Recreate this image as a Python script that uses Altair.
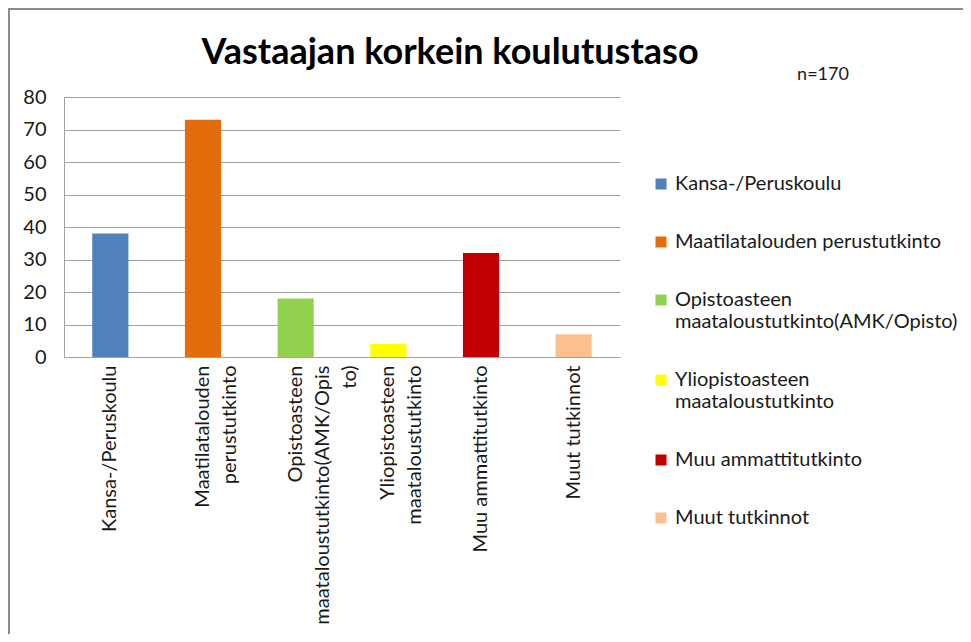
import json
import altair as alt
import pandas as pd

categories = [
    "Kansa-/Peruskoulu",
    "Maatilatalouden perustutkinto",
    "Opistoasteen maataloustutkinto(AMK/Opisto)",
    "Yliopistoasteen maataloustutkinto",
    "Muu ammattitutkinto",
    "Muut tutkinnot",
]
values = [38, 73, 18, 4, 32, 7]
colors = ["#4F81BD", "#E46C0A", "#92D050", "#FFFF00", "#C00000", "#FAC090"]
axis_label_lines = [
    ["Kansa-/Peruskoulu"],
    ["Maatilatalouden", "perustutkinto"],
    ["Opistoasteen", "maataloustutkinto(AMK/Opis", "to)"],
    ["Yliopistoasteen", "maataloustutkinto"],
    ["Muu ammattitutkinto"],
    ["Muut tutkinnot"],
]
legend_label_lines = [
    ["Kansa-/Peruskoulu"],
    ["Maatilatalouden perustutkinto"],
    ["Opistoasteen", "maataloustutkinto(AMK/Opisto)"],
    ["Yliopistoasteen", "maataloustutkinto"],
    ["Muu ammattitutkinto"],
    ["Muut tutkinnot"],
]
y_ticks = [0, 10, 20, 30, 40, 50, 60, 70, 80]
title_text = "Vastaajan korkein koulutustaso"
note_text = "n=170"

FONT = "Lato"
TXT = "#1a1a1a"
GRID = "#a3a3a3"
LBL = 20

df = pd.DataFrame({"cat": categories, "val": values})

cat_js = json.dumps(categories)
axis_expr = f"{json.dumps(axis_label_lines)}[indexof({cat_js}, datum.label)]"
legend_expr = f"{json.dumps(legend_label_lines)}[indexof({cat_js}, datum.label)]"

bars = alt.Chart(df).mark_bar().encode(
    x=alt.X(
        "cat:N",
        sort=categories,
        scale=alt.Scale(paddingInner=0.61, paddingOuter=0.305),
        axis=alt.Axis(
            title=None,
            labelAngle=-90,
            labelExpr=axis_expr,
            labelFont=FONT,
            labelFontSize=LBL,
            labelColor=TXT,
            labelLineHeight=27,
            labelPadding=8,
            labelLimit=400,
            ticks=False,
            domainColor=GRID,
            grid=False,
        ),
    ),
    y=alt.Y(
        "val:Q",
        scale=alt.Scale(domain=[0, 80], nice=False),
        axis=alt.Axis(
            title=None,
            values=y_ticks,
            labelFont=FONT,
            labelFontSize=LBL,
            labelColor=TXT,
            labelPadding=18,
            ticks=False,
            domainColor=GRID,
            gridColor=GRID,
        ),
    ),
    color=alt.Color(
        "cat:N",
        sort=categories,
        scale=alt.Scale(domain=categories, range=colors),
        legend=alt.Legend(
            title=None,
            orient="none",
            legendX=587,
            legendY=77,
            symbolType="square",
            symbolSize=121,
            symbolStrokeWidth=0,
            labelFont=FONT,
            labelFontSize=LBL,
            labelColor=TXT,
            labelExpr=legend_expr,
            labelLimit=400,
            labelOffset=4,
            rowPadding=38,
        ),
    ),
)

one = pd.DataFrame({"t": [note_text], "title": [title_text]})

note = alt.Chart(one).mark_text(
    font=FONT, fontSize=18, color=TXT, align="center", baseline="middle"
).encode(text="t:N", x=alt.value(759), y=alt.value(-22))

title = alt.Chart(one).mark_text(
    font=FONT, fontSize=36, fontWeight="bold", color="#000000",
    align="center", baseline="middle"
).encode(text="title:N", x=alt.value(386), y=alt.value(-44))

border_left = alt.Chart(one).mark_rule(color="#8c8c8c", strokeWidth=2).encode(
    x=alt.value(-55), x2=alt.value(-55), y=alt.value(-88), y2=alt.value(545)
)
border_top = alt.Chart(one).mark_rule(color="#8c8c8c", strokeWidth=2).encode(
    x=alt.value(-56), x2=alt.value(907), y=alt.value(-88), y2=alt.value(-88)
)

chart = (
    alt.layer(border_left, border_top, bars, title, note)
    .properties(
        width=556,
        height=260,
        autosize=alt.AutoSizeParams(type="none"),
        padding={"left": 56, "top": 89, "right": 343, "bottom": 277},
    )
    .configure_view(strokeWidth=0)
)

chart.save("out.html", embed_options={"renderer": "svg", "actions": False})
